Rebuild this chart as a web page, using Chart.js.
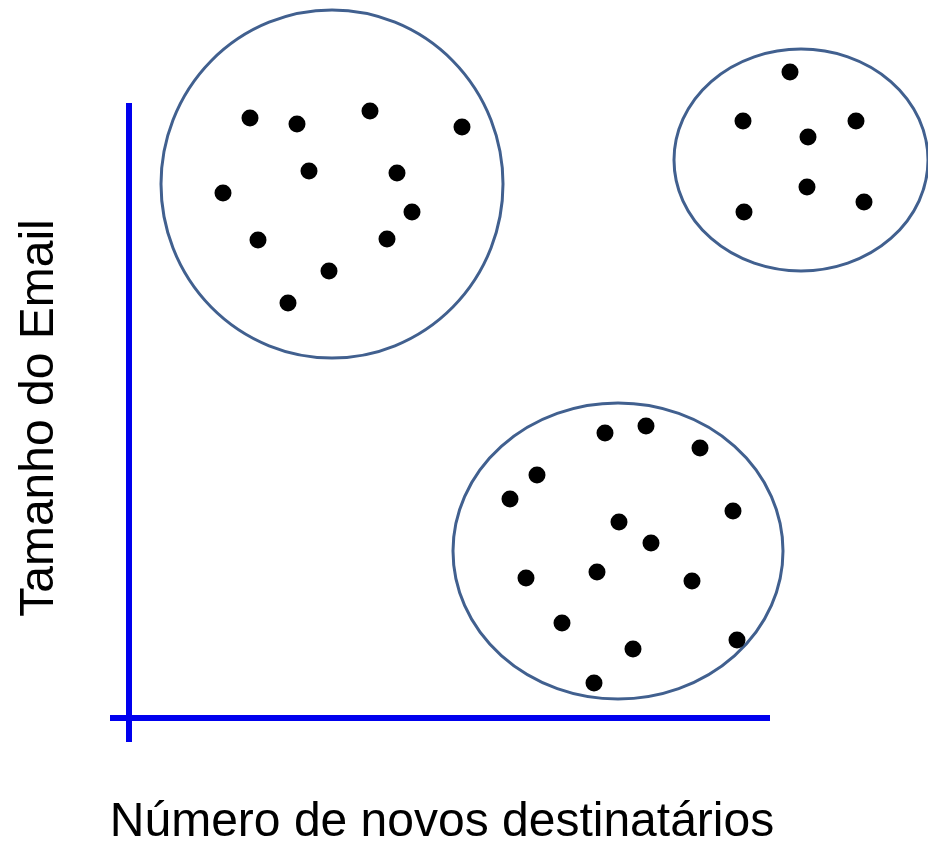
<!DOCTYPE html>
<html>
<head>
<meta charset="utf-8">
<script src="https://cdn.jsdelivr.net/npm/chart.js@4"></script>
<style>
  html, body { margin: 0; padding: 0; background: #fff; }
  #wrap { width: 928px; height: 841px; position: relative; }
</style>
</head>
<body>
<div id="wrap"><canvas id="chart-1"></canvas></div>
<script>
// cluster points (picture units: x to the right, y downwards)
const groupA_x = [250, 297, 370, 462, 309, 397, 223, 412, 258, 387, 329, 288];
const groupA_y = [118, 124, 111, 127, 171, 173, 193, 212, 240, 239, 271, 303];
const groupB_x = [790, 743, 856, 808, 807, 864, 744];
const groupB_y = [72, 121, 121, 137, 187, 202, 212];
const groupC_x = [605, 646, 700, 537, 510, 733, 619, 651, 526, 597, 692, 562, 633, 737, 594];
const groupC_y = [433, 426, 448, 475, 499, 511, 522, 543, 578, 572, 581, 623, 649, 640, 683];

// circles around the clusters
const ring_cx = [332, 801, 618];
const ring_cy = [184, 160, 551];
const ring_rx = [171, 127, 165];
const ring_ry = [174, 111, 148];

// the two drawn axes
const axisY_x = [129, 129];
const axisY_y = [103, 742];
const axisX_x = [110, 770];
const axisX_y = [718, 718];

const xTitle = "Número de novos destinatários";
const yTitle = "Tamanho do Email";

function toPoints(xs, ys) {
  return xs.map((x, i) => ({ x: x, y: ys[i] }));
}

const rings = {
  id: "rings",
  beforeDatasetsDraw(chart) {
    const ctx = chart.ctx;
    const sx = chart.scales.x;
    const sy = chart.scales.y;
    ctx.save();
    ctx.strokeStyle = "#41608f";
    ctx.lineWidth = 3;
    ring_cx.forEach((cx, i) => {
      const px = sx.getPixelForValue(cx);
      const py = sy.getPixelForValue(ring_cy[i]);
      const rx = Math.abs(sx.getPixelForValue(cx + ring_rx[i]) - px);
      const ry = Math.abs(sy.getPixelForValue(ring_cy[i] + ring_ry[i]) - py);
      ctx.beginPath();
      ctx.ellipse(px, py, rx, ry, 0, 0, Math.PI * 2);
      ctx.stroke();
    });
    ctx.restore();
  },
  afterDraw(chart) {
    const ctx = chart.ctx;
    ctx.save();
    ctx.fillStyle = "#000";
    ctx.font = "48px 'Liberation Sans', Arial, sans-serif";
    ctx.textAlign = "center";
    ctx.textBaseline = "alphabetic";
    ctx.fillText(xTitle, 442, 836);
    ctx.translate(53, 418);
    ctx.rotate(-Math.PI / 2);
    ctx.fillText(yTitle, 0, 0);
    ctx.restore();
  },
};

const ctx_1 = document.getElementById("chart-1");
const dotStyle = {
  type: "scatter",
  backgroundColor: "#000",
  borderColor: "#000",
  pointRadius: 8.5,
  pointHoverRadius: 8.5,
  borderWidth: 0,
};
const axisStyle = {
  type: "line",
  borderColor: "#0000ee",
  borderWidth: 6,
  pointRadius: 0,
  fill: false,
  tension: 0,
};

new Chart(ctx_1, {
  data: {
    datasets: [
      { ...axisStyle, label: "eixo y", data: toPoints(axisY_x, axisY_y) },
      { ...axisStyle, label: "eixo x", data: toPoints(axisX_x, axisX_y) },
      { ...dotStyle, label: "grupo A", data: toPoints(groupA_x, groupA_y) },
      { ...dotStyle, label: "grupo B", data: toPoints(groupB_x, groupB_y) },
      { ...dotStyle, label: "grupo C", data: toPoints(groupC_x, groupC_y) },
    ],
  },
  options: {
    responsive: true,
    maintainAspectRatio: false,
    animation: { duration: 0 },
    layout: { padding: 0, autoPadding: false },
    scales: {
      x: { type: "linear", min: 0, max: 928, display: false },
      y: { type: "linear", min: 0, max: 841, reverse: true, display: false },
    },
    plugins: {
      legend: { display: false },
      tooltip: { enabled: false },
    },
  },
  plugins: [rings],
});
</script>
</body>
</html>
